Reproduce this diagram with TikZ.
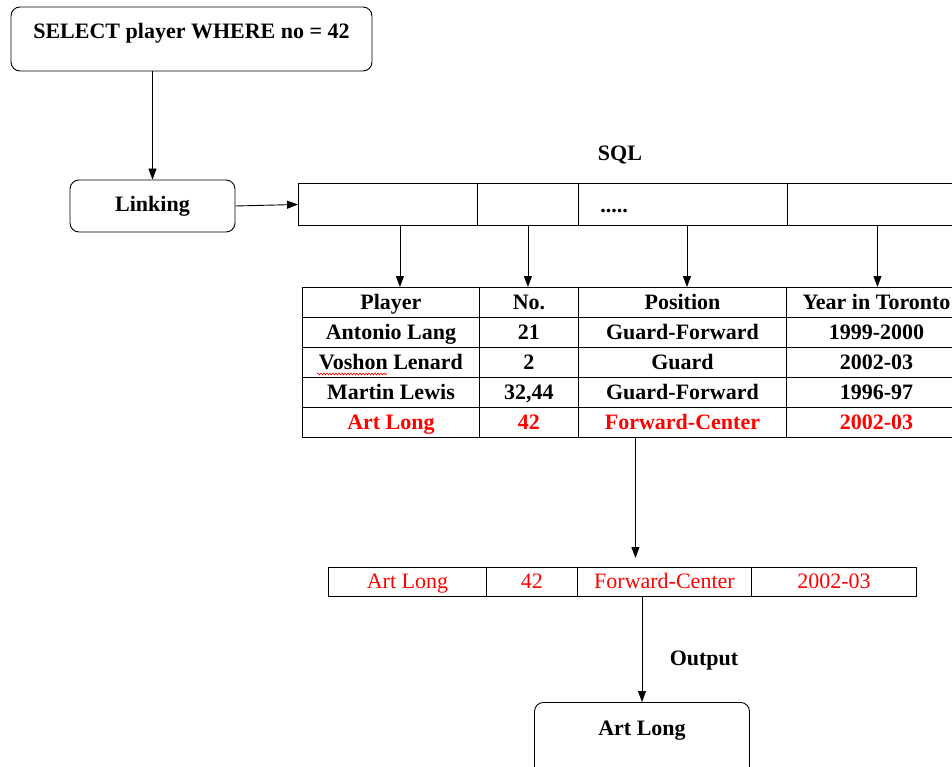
\documentclass[tikz,border=0pt]{standalone}
\usepackage{fontspec}
\setmainfont{Liberation Serif}
\usetikzlibrary{arrows.meta,decorations.pathmorphing}

\begin{document}
\begin{tikzpicture}[x=1pt,y=-1pt,line width=0.9pt,
    font=\fontsize{22}{26}\selectfont,
    rbox/.style={draw,rounded corners=9pt,inner sep=3pt},
    cell/.style={draw,anchor=north west,inner sep=0pt,text height=17pt,text depth=3pt},
    lbl/.style={font=\fontsize{22}{26}\selectfont\bfseries},
    arr/.style={-{Triangle[length=11pt,width=8pt]}}]
  \useasboundingbox (0,0) rectangle (952,767);
  \clip (0,0) rectangle (952,767);

  \node[rbox,lbl,minimum width=361pt,text height=29pt,text depth=29pt] (query) at (191.5,39) {SELECT player WHERE no = 42};
  \node[rbox,lbl,minimum width=165pt,minimum height=52pt] (link) at (152.5,206) {Linking};

  % sql row
  \node[lbl] (sql) at (620,155) {SQL};
  \node[cell,minimum width=179pt,minimum height=42pt] (s1) at (298,183) {};
  \node[cell,minimum width=101pt,minimum height=42pt] (s2) at (477,183) {};
  \node[cell,minimum width=209pt,minimum height=42pt] (s3) at (578,183) {};
  \node[cell,minimum width=180pt,minimum height=42pt] (s4) at (787,183) {};
  \node[lbl,anchor=base] (dots) at (614,213) {.....};

  % table
  \foreach \r/\y/\col/\a/\b/\c/\d in {0/287/black/Player/No./Position/Year in Toronto,
      1/317/black/Antonio Lang/21/Guard-Forward/1999-2000,
      2/347/black/Voshon Lenard/2/Guard/2002-03,
      3/377/black/Martin Lewis/{32,44}/Guard-Forward/1996-97,
      4/407/red/Art Long/42/Forward-Center/2002-03} {
    \node[cell,lbl,text=\col,minimum width=177pt,minimum height=30pt] (t\r1) at (302,\y) {\a};
    \node[cell,lbl,text=\col,minimum width=99pt,minimum height=30pt] (t\r2) at (479,\y) {\b};
    \node[cell,lbl,text=\col,minimum width=208pt,minimum height=30pt] (t\r3) at (578,\y) {\c};
    \node[cell,lbl,text=\col,minimum width=180pt,minimum height=30pt] (t\r4) at (786,\y) {\d};
  }
  \draw[red,line width=0.6pt,decorate,decoration={snake,amplitude=1pt,segment length=3pt}] (317,374) -- (387,374);

  % result row
  \node[cell,text=red,minimum width=158pt,minimum height=29pt] (o1) at (328,567) {Art Long};
  \node[cell,text=red,minimum width=91pt,minimum height=29pt] (o2) at (486,567) {42};
  \node[cell,text=red,minimum width=174pt,minimum height=29pt] (o3) at (577,567) {Forward-Center};
  \node[cell,text=red,minimum width=165pt,minimum height=29pt] (o4) at (751,567) {2002-03};

  \node[lbl] (out) at (704,661) {Output};
  \node[rbox,lbl,anchor=north,minimum width=215pt,text height=30pt,text depth=42pt] (res) at (642,702) {Art Long};

  \draw[arr] (query.south -| link.north) -- (link.north);
  \draw[arr] (link.east) -- (s1.west);
  \foreach \i/\dx in {1/12,2/0,3/4,4/0}
    \draw[arr] ([xshift=\dx pt]s\i.south) -- ([xshift=\dx pt]s\i.south |- t0\i.north);
  \draw[arr,shorten >=9pt] ([xshift=-47pt]t43.south) -- ([xshift=-47pt]t43.south |- o3.north);
  \draw[arr] (o3.south -| res.north) -- (res.north);
\end{tikzpicture}
\end{document}
